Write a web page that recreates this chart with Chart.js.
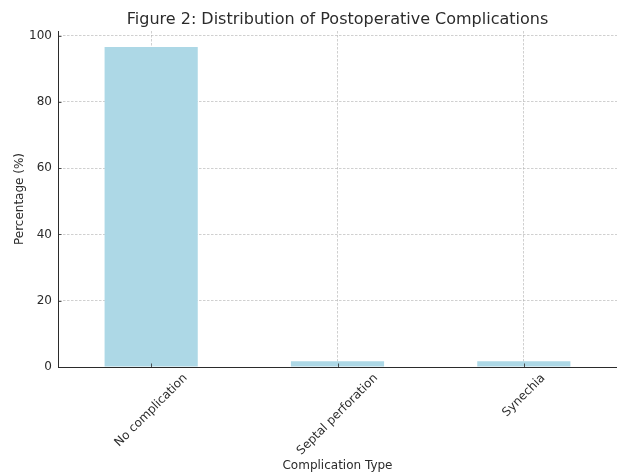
<!DOCTYPE html>
<html>
<head>
<meta charset="utf-8">
<script src="https://cdn.jsdelivr.net/npm/chart.js@4"></script>
<style>
html,body{margin:0;padding:0;background:#fff;}
#wrap{width:617px;height:473px;}
</style>
</head>
<body>
<div id="wrap"><canvas id="c" width="617" height="473"></canvas></div>
<script>
const categories = ["No complication", "Septal perforation", "Synechia"];
const percentages = [96.6, 1.7, 1.7];
const yTicks = [0, 20, 40, 60, 80, 100];
const chartTitle = 'Figure 2: Distribution of Postoperative Complications';

const FONT = "'DejaVu Sans', sans-serif";
const TEXT = "#2b2b2b";

const innerTicksAndLabels = {
  id: 'innerTicksAndLabels',
  afterDraw(chart) {
    const ctx = chart.ctx;
    const xs = chart.scales.x, ys = chart.scales.y;
    const area = chart.chartArea;
    ctx.save();
    ctx.strokeStyle = TEXT;
    ctx.lineWidth = 0.8;
    ys.ticks.forEach((t, i) => {
      const py = Math.round(ys.getPixelForTick(i)) + 0.5;
      ctx.beginPath(); ctx.moveTo(area.left, py); ctx.lineTo(area.left + 3.5, py); ctx.stroke();
    });
    xs.ticks.forEach((t, i) => {
      const px = Math.round(xs.getPixelForValue(i)) + 0.5;
      ctx.beginPath(); ctx.moveTo(px, area.bottom); ctx.lineTo(px, area.bottom - 3.5); ctx.stroke();
    });
    // title centred over the plot area
    ctx.fillStyle = TEXT;
    ctx.font = "16px " + FONT;
    ctx.textAlign = 'center';
    ctx.textBaseline = 'middle';
    ctx.fillText(chartTitle, (area.left + area.right) / 2, 20);
    // rotated category labels, centred on tick (matplotlib ha='center')
    ctx.font = "12px " + FONT;
    const c = Math.SQRT1_2;
    categories.forEach((lab, i) => {
      const px = xs.getPixelForValue(i);
      const w = ctx.measureText(lab).width;
      const h = 12;
      const bh = (w + h) * c;
      const cy = area.bottom + 5 + bh / 2;
      ctx.save();
      ctx.translate(px, cy);
      ctx.rotate(-Math.PI / 4);
      ctx.fillText(lab, 0, 0);
      ctx.restore();
    });
    ctx.restore();
  }
};

new Chart(document.getElementById('c'), {
  type: 'bar',
  data: {
    labels: categories,
    datasets: [{
      data: percentages,
      backgroundColor: '#ADD8E6',
      borderWidth: 0,
      barPercentage: 0.5,
      categoryPercentage: 1.0
    }]
  },
  options: {
    responsive: false,
    animation: false,
    layout: { padding: { left: 0, right: 0, top: 31, bottom: 0 } },
    plugins: {
      legend: { display: false },
      tooltip: { enabled: false },
      title: { display: false }
    },
    scales: {
      x: {
        z: 1,
        offset: true,
        afterFit(s) { s.height = 106; },
        grid: {
          offset: false,
          color: 'rgba(176,176,176,0.75)',
          lineWidth: 0.8,
          drawTicks: false
        },
        border: { display: true, color: TEXT, width: 1, dash: [2.5, 1.5] },
        ticks: { display: false },
        title: {
          display: true,
          text: 'Complication Type',
          color: TEXT,
          font: { family: FONT, size: 12 },
          padding: { top: 0, bottom: 0 }
        }
      },
      y: {
        z: 1,
        min: 0,
        max: 101.4,
        afterFit(s) { s.width = 58; },
        afterBuildTicks(s) { s.ticks = yTicks.map(v => ({ value: v })); },
        grid: {
          color: 'rgba(176,176,176,0.75)',
          lineWidth: 0.8,
          drawTicks: false
        },
        border: { display: true, color: TEXT, width: 1, dash: [2.5, 1.5] },
        ticks: {
          color: TEXT,
          font: { family: FONT, size: 12 },
          padding: 6,
          includeBounds: false
        },
        title: {
          display: true,
          text: 'Percentage (%)',
          color: TEXT,
          font: { family: FONT, size: 12 },
          padding: { top: 13, bottom: 0 }
        }
      }
    }
  },
  plugins: [innerTicksAndLabels]
});
</script>
</body>
</html>
